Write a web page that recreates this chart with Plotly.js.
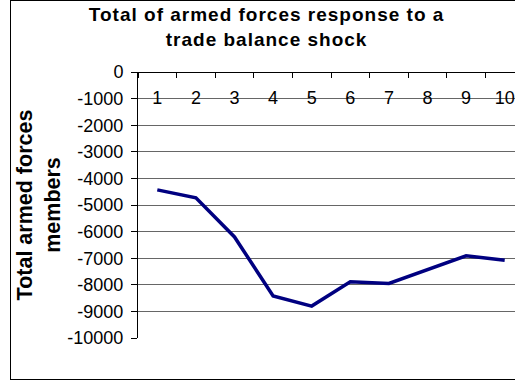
<!DOCTYPE html>
<html>
<head>
<meta charset="utf-8">
<script src="https://cdn.plot.ly/plotly-3.0.1.min.js"></script>
<style>
html, body { margin: 0; padding: 0; overflow: hidden; background: #fff; width: 515px; height: 381px; }
#chart { position: absolute; left: 0; top: 0; width: 530px; height: 381px; }
#frame { position: absolute; left: 10px; top: 0px; width: 600px; height: 378px; border: 1.5px solid #000; pointer-events: none; }
.gtitle { letter-spacing: 1px; }
</style>
</head>
<body>
<div id="chart"></div>
<div id="frame"></div>
<script>
var periods = ['1', '2', '3', '4', '5', '6', '7', '8', '9', '10'];
var armedForces = [-4430, -4730, -6200, -8420, -8800, -7890, -7950, -7430, -6910, -7075];
var yTicks = [0, -1000, -2000, -3000, -4000, -5000, -6000, -7000, -8000, -9000, -10000];

var FONT = 'Liberation Sans, Arial, sans-serif';

var trace = {
  x: periods,
  y: armedForces,
  type: 'scatter',
  mode: 'lines',
  line: { color: '#000080', width: 3.5 },
  hoverinfo: 'x+y'
};

var layout = {
  width: 530,
  height: 381,
  margin: { l: 138, r: 6, t: 72, b: 43 },
  paper_bgcolor: 'rgba(0,0,0,0)',
  plot_bgcolor: 'rgba(0,0,0,0)',
  showlegend: false,
  title: {
    text: 'Total of armed forces response to a<br>trade balance shock',
    font: { family: FONT, size: 19, color: '#000', weight: 'bold' },
    x: 0.503,
    xanchor: 'center',
    y: 0.945,
    yanchor: 'top'
  },
  xaxis: {
    type: 'category',
    range: [-0.5, 9.5],
    anchor: 'free',
    position: 1,
    side: 'bottom',
    showline: true,
    linecolor: '#000',
    linewidth: 1,
    ticks: 'outside',
    ticklen: 5,
    tickcolor: '#000',
    tickwidth: 1,
    tickson: 'boundaries',
    ticklabelstandoff: 9,
    showgrid: false,
    zeroline: false,
    tickfont: { family: FONT, size: 18, color: '#000' }
  },
  yaxis: {
    range: [-10000, 0],
    tickvals: yTicks,
    ticktext: yTicks.map(String),
    showline: true,
    linecolor: '#000',
    linewidth: 1,
    ticks: 'outside',
    ticklen: 6,
    tickcolor: '#000',
    ticklabelstandoff: 4,
    showgrid: true,
    gridcolor: '#666',
    gridwidth: 1,
    zeroline: false,
    tickfont: { family: FONT, size: 18, color: '#000' },
    title: {
      text: 'Total armed forces<br>members',
      font: { family: FONT, size: 21.5, color: '#000', weight: 'bold' },
      standoff: 0
    }
  }
};

Plotly.newPlot('chart', [trace], layout, { displayModeBar: false, staticPlot: true });
</script>
</body>
</html>
